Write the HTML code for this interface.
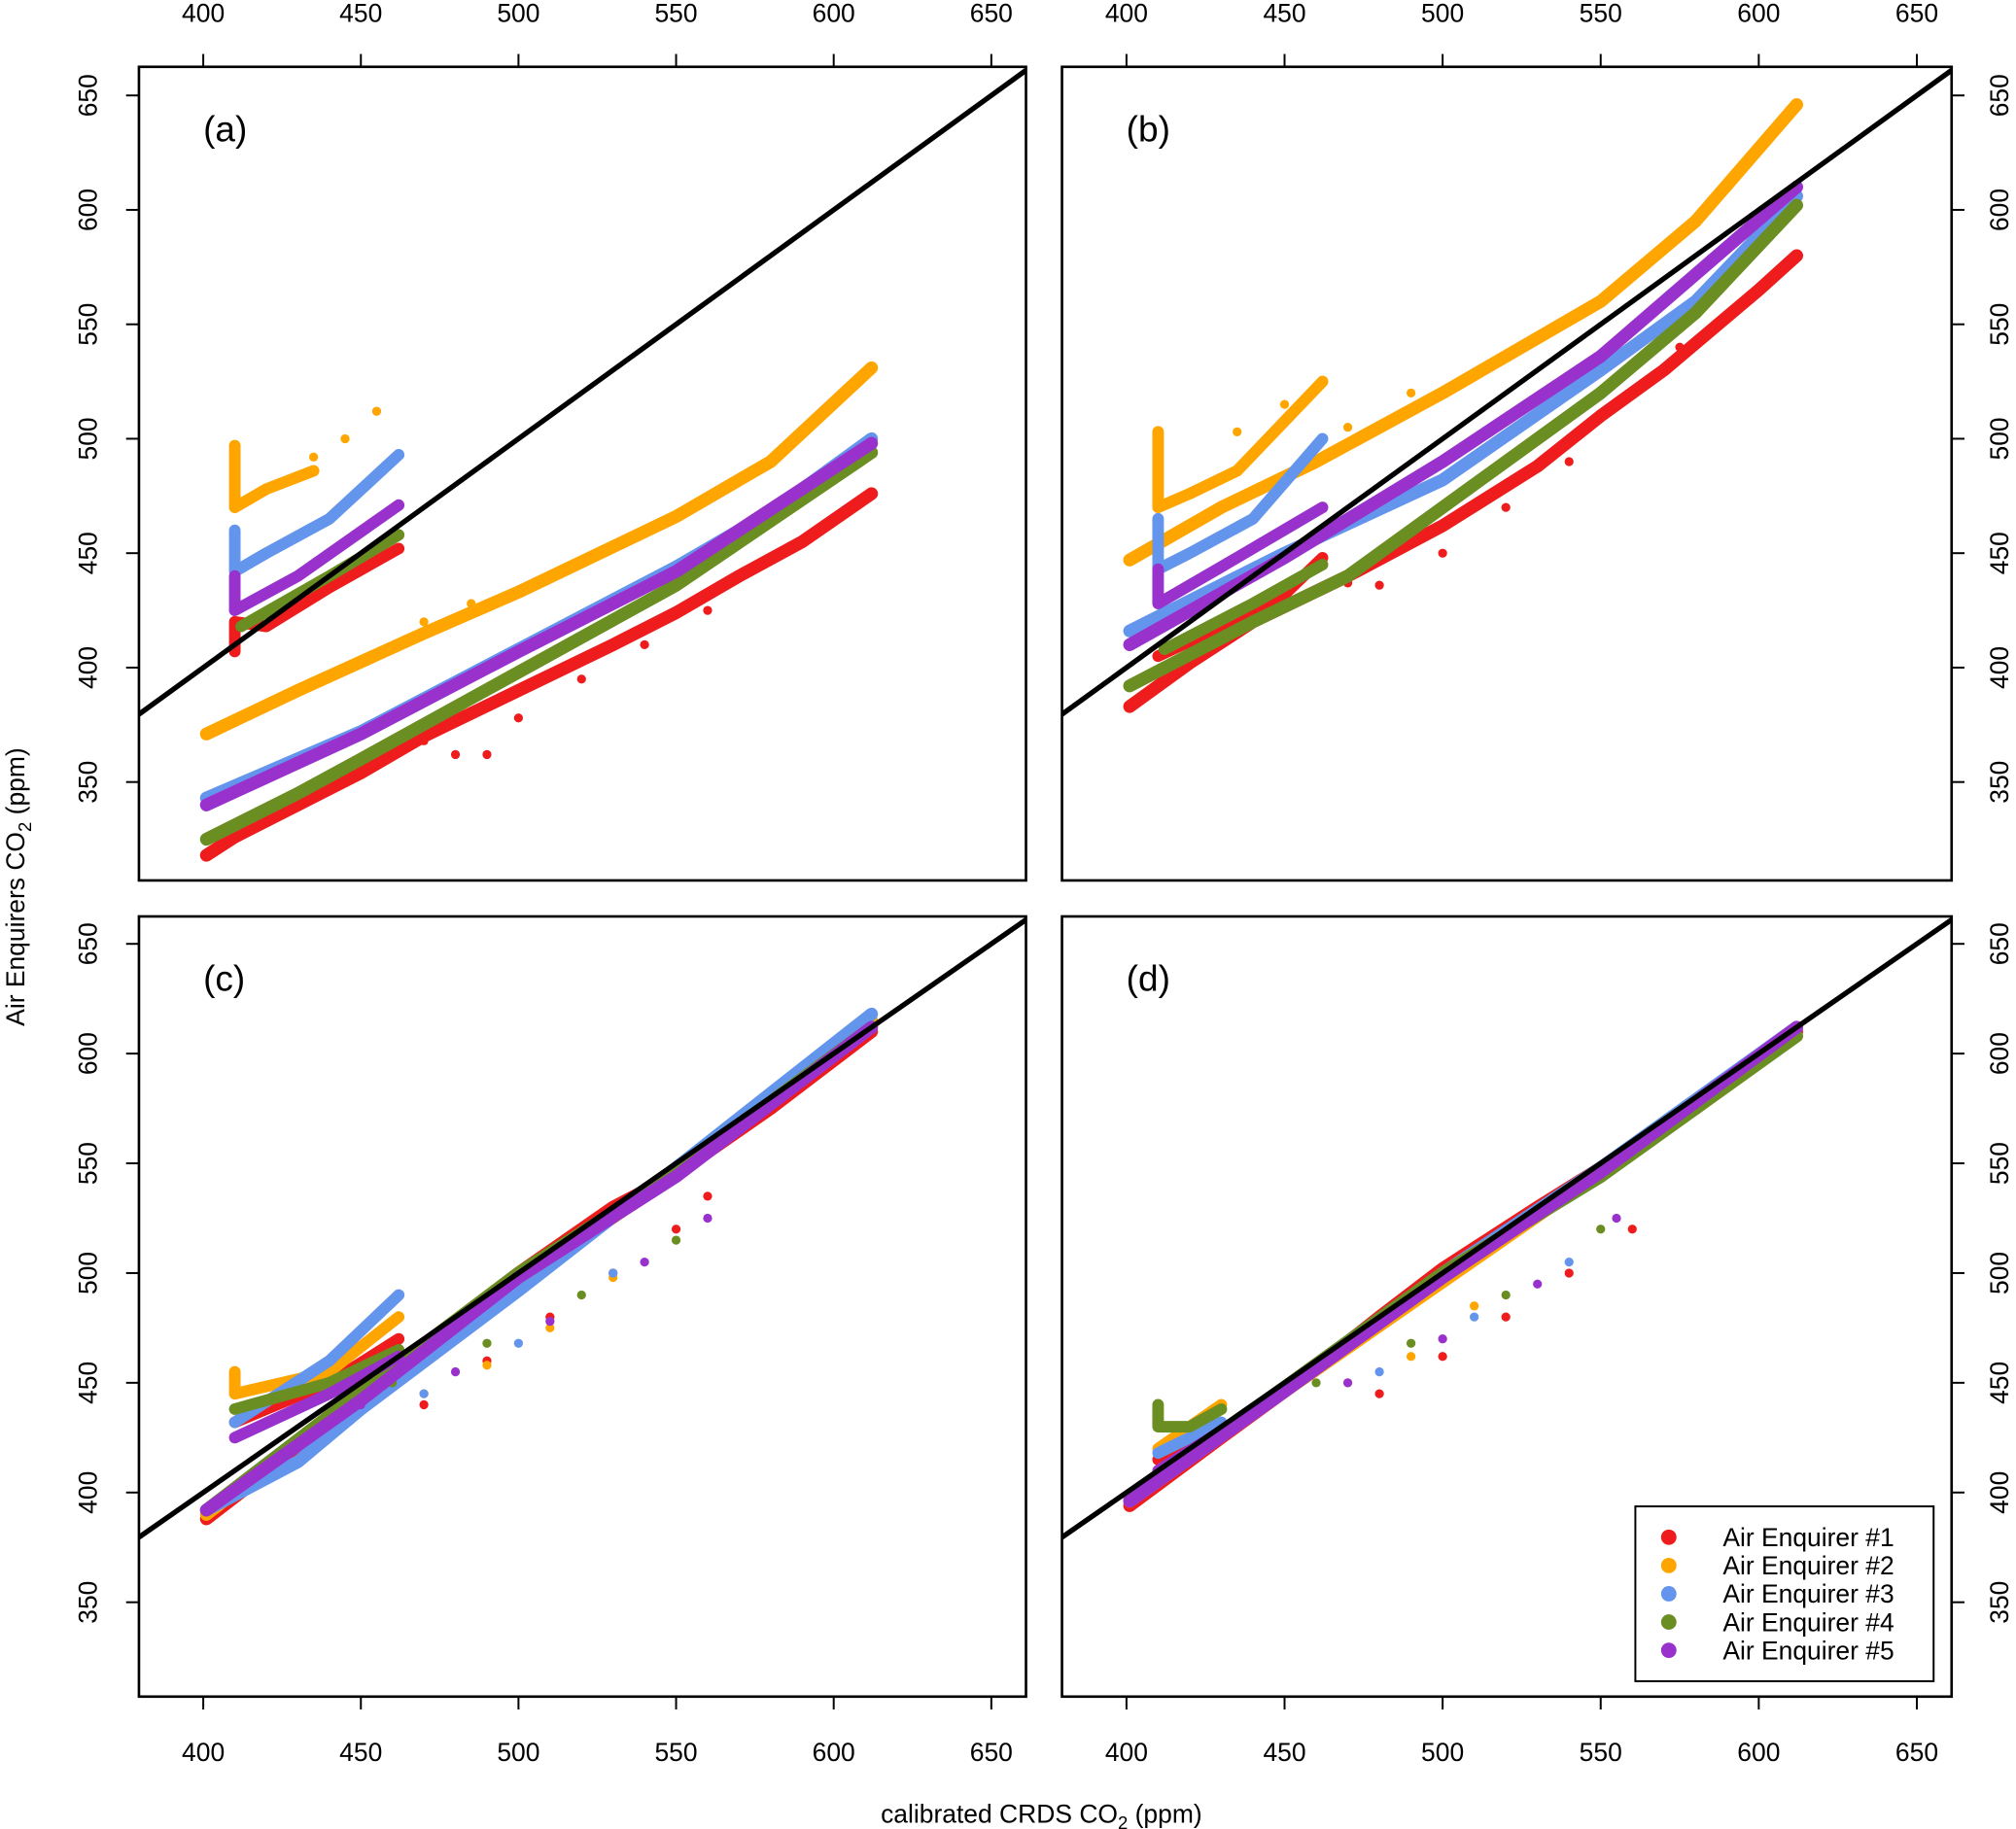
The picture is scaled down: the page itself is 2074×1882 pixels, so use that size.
<!DOCTYPE html>
<html><head><meta charset="utf-8"><style>html,body{margin:0;padding:0;background:#fff}svg{display:block}text{font-family:"Liberation Sans",Arial,sans-serif;fill:#000}</style></head>
<body>
<svg id="chart" width="2074" height="1882" viewBox="0 0 1568 1423" xmlns="http://www.w3.org/2000/svg">
<g id="root"></g>
<text x="810" y="1418" font-size="20" text-anchor="middle">calibrated CRDS CO<tspan font-size="14" dy="5">2</tspan><tspan dy="-5"> (ppm)</tspan></text>
<text transform="translate(19,690) rotate(-90)" font-size="20" text-anchor="middle">Air Enquirers CO<tspan font-size="14" dy="5">2</tspan><tspan dy="-5"> (ppm)</tspan></text>
</svg>
<script>
const xTicks=[400,450,500,550,600,650];
const yTicks=[350,400,450,500,550,600,650];
const seriesNames=["Air Enquirer #1","Air Enquirer #2","Air Enquirer #3","Air Enquirer #4","Air Enquirer #5"];
const seriesColors=["#ee1c1c","#ffa500","#6495ed","#6b8e23","#9932cc"];
const panelLabels=["(a)","(b)","(c)","(d)"];
const aMain=[[[401,318],[410,326],[430,340],[450,354],[470,370],[500,390],[530,410],[550,424],[570,440],[590,455],[612,476]],
[[401,371],[430,390],[470,415],[500,433],[550,466],[580,490],[612,531]],
[[401,343],[450,372],[500,408],[550,444],[580,468],[612,500]],
[[401,325],[430,345],[450,360],[500,398],[550,436],[612,494]],
[[401,340],[450,371],[500,407],[550,442],[612,498]]];
const aClus=[[[410,407],[410,420],[420,418],[440,435],[462,452]],[[410,497],[410,470],[420,478],[435,486]],[[410,460],[410,442],[420,450],[440,465],[462,493]],[[412,418],[440,440],[462,458]],[[410,440],[410,425],[430,440],[462,471]]];
const aSparse=[[[470,368],[480,362],[490,362],[500,378],[520,395],[540,410],[560,425]],[[435,492],[445,500],[455,512],[470,420],[485,428]],[],[],[]];
const bMain=[[[401,383],[420,402],[440,420],[470,440],[500,462],[530,488],[550,510],[570,530],[600,565],[612,580]],
[[401,447],[430,470],[460,490],[500,520],[550,560],[580,595],[612,646]],
[[401,416],[450,450],[500,482],[550,530],[580,560],[612,606]],
[[401,392],[440,420],[470,440],[500,470],[550,520],[580,555],[612,602]],
[[401,410],[450,448],[500,490],[550,536],[612,610]]];
const bClus=[[[410,405],[430,418],[450,432],[462,448]],[[410,503],[410,470],[420,476],[435,486],[462,525]],[[410,465],[410,443],[420,450],[440,465],[462,500]],[[412,408],[440,428],[462,445]],[[410,443],[410,428],[430,444],[462,470]]];
const bSparse=[[[470,437],[480,436],[500,450],[520,470],[540,490],[560,520],[575,540]],[[435,503],[450,515],[470,505],[490,520]],[],[],[]];
const cMain=[[[401,388],[430,420],[450,440],[480,478],[500,500],[530,530],[550,545],[580,575],[612,610]],
[[401,390],[450,445],[500,496],[550,545],[612,615]],
[[401,392],[430,414],[450,438],[500,492],[550,548],[612,618]],
[[401,392],[450,446],[500,500],[550,546],[612,612]],
[[401,392],[450,442],[500,498],[550,544],[612,612]]];
const cClus=[[[410,432],[440,450],[462,470]],[[410,455],[410,445],[440,455],[462,480]],[[410,432],[440,460],[462,490]],[[410,438],[440,450],[462,465]],[[410,425],[440,445],[462,462]]];
const cSparse=[[[470,440],[490,460],[510,480],[530,500],[550,520],[560,535]],[[470,445],[490,458],[510,475],[530,498]],[[440,432],[470,445],[500,468],[530,500]],[[460,450],[490,468],[520,490],[550,515]],[[450,440],[480,455],[510,478],[540,505],[560,525]]];
const dMain=[[[401,394],[430,425],[450,446],[480,480],[500,502],[530,530],[550,548],[580,575],[612,610]],
[[401,396],[450,446],[500,496],[550,546],[612,612]],
[[401,397],[450,448],[500,500],[550,548],[612,612]],
[[401,398],[450,448],[500,500],[550,544],[612,608]],
[[401,396],[450,446],[500,498],[550,546],[612,612]]];
const dClus=[[[410,415],[430,428]],[[410,420],[430,440]],[[410,418],[430,432]],[[410,440],[410,430],[420,430],[430,438]],[[410,410],[430,428]]];
const dSparse=[[[480,445],[500,462],[520,480],[540,500],[560,520]],[[470,450],[490,462],[510,485]],[[480,455],[510,480],[540,505]],[[460,450],[490,468],[520,490],[550,520]],[[470,450],[500,470],[530,495],[555,525]]];
const panelMain=[aMain,bMain,cMain,dMain],panelClus=[aClus,bClus,cClus,dClus],panelSparse=[aSparse,bSparse,cSparse,dSparse];
const xMin=379.6,xMax=661,yMin=307,yMax=662.5;
const boxes=[[108,52,798,685],[826,52,1518,685],[108,713,798,1320],[826,713,1518,1320]];
const NS="http://www.w3.org/2000/svg";const root=document.getElementById('root');
function mk(t,a,p){const e=document.createElementNS(NS,t);for(const k in a)e.setAttribute(k,a[k]);(p||root).appendChild(e);return e;}
boxes.forEach((b,pi)=>{
 const [x0,y0,x1,y1]=b;
 const sx=v=>x0+(v-xMin)/(xMax-xMin)*(x1-x0);
 const sy=v=>y1-(v-yMin)/(yMax-yMin)*(y1-y0);
 const g=mk('g',{});
 
 
 const cp=mk('clipPath',{id:'cp'+pi},g);mk('rect',{x:x0,y:y0,width:x1-x0,height:y1-y0},cp);
 const pg=mk('g',{'clip-path':'url(#cp'+pi+')'},g);
 seriesColors.forEach((c,si)=>{
  [panelMain[pi][si],panelClus[pi][si]].forEach((arr,k)=>{
   if(!arr.length)return;
   const pl=mk('polyline',{points:arr.map(p=>sx(p[0])+','+sy(p[1])).join(' '),fill:'none',stroke:c,'stroke-width':k?9:10,'stroke-linejoin':'round','stroke-linecap':'round'},pg);
   
   
  });
  panelSparse[pi][si].forEach(p=>{
   const d=mk('circle',{cx:sx(p[0]),cy:sy(p[1]),r:3.5,fill:c},pg);
   
   
  });
 });
 const ln=mk('line',{x1:sx(xMin),y1:sy(xMin),x2:sx(xMax),y2:sy(xMax),stroke:'#000','stroke-width':4},pg);
 
 
 const fr=mk('rect',{x:x0,y:y0,width:x1-x0,height:y1-y0,fill:'none',stroke:'#000','stroke-width':2},g);
 
 
 const lb=mk('text',{x:x0+50,y:y0+58,'font-size':28},g);lb.textContent=panelLabels[pi];
 
 
 const top=pi<2, left=pi%2==0;
 const ty=top?y0:y1, dir=top?-1:1;
 xTicks.forEach(v=>{mk('line',{x1:sx(v),x2:sx(v),y1:ty,y2:ty+dir*10,stroke:'#000','stroke-width':1.5},g);
  const t=mk('text',{x:sx(v),y:top?ty-35:ty+50,'font-size':20,'text-anchor':'middle'},g);t.textContent=v;
  
  });
 mk('line',{x1:sx(400),x2:sx(650),y1:ty,y2:ty,stroke:'#000','stroke-width':1.5},g);
 const tx=left?x0:x1,dx=left?-1:1;
 yTicks.forEach(v=>{mk('line',{x1:tx,x2:tx+dx*10,y1:sy(v),y2:sy(v),stroke:'#000','stroke-width':1.5},g);
  const lx=left?tx-33:tx+44;
  const t=mk('text',{transform:'translate('+lx+','+sy(v)+') rotate(-90)','font-size':20,'text-anchor':'middle'},g);t.textContent=v;
  
  });
});
const lg=mk('g',{});


mk('rect',{x:1272,y:1172,width:232,height:136,fill:'#fff',stroke:'#000','stroke-width':1.5},lg);
seriesNames.forEach((n,i)=>{const y=1196+i*22;
 mk('circle',{cx:1298,cy:y,r:6,fill:seriesColors[i]},lg);
 const t=mk('text',{x:1340,y:y+7,'font-size':20},lg);t.textContent=n;
 
 });
</script>
</body></html>
